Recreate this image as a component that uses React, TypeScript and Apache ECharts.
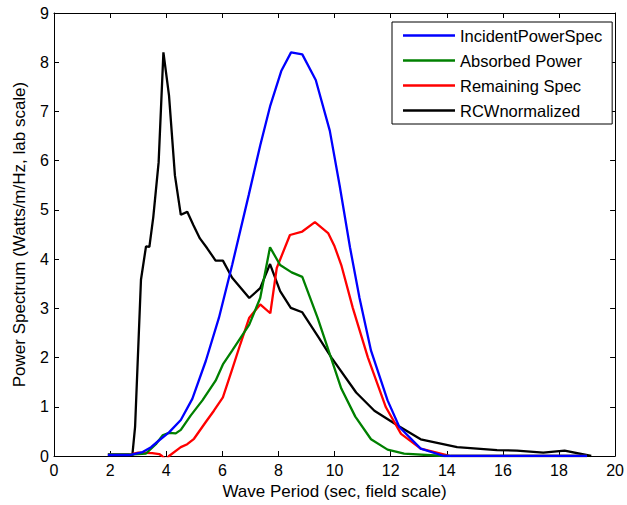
import React, { useEffect, useRef } from "react";
import * as echarts from "echarts";

const xTicks = [0, 2, 4, 6, 8, 10, 12, 14, 16, 18, 20];

const incidentPowerSpec: [number, number][] = [
  [1.92, 0.02], [2.69, 0.02], [3.16, 0.08], [3.46, 0.18], [3.75, 0.32], [4.1, 0.48],
  [4.52, 0.73], [4.93, 1.16], [5.41, 1.93], [5.88, 2.81], [6.35, 3.88], [6.94, 5.3],
  [7.35, 6.31], [7.71, 7.12], [8.1, 7.82], [8.45, 8.2], [8.85, 8.16], [9.33, 7.64],
  [9.83, 6.61], [10.18, 5.5], [10.55, 4.24], [10.89, 3.21], [11.3, 2.14], [11.89, 1.13],
  [12.31, 0.59], [13.07, 0.15], [13.9, 0.0], [16.0, 0.0], [19.0, 0.0],
];

const absorbedPower: [number, number][] = [
  [1.92, 0.03], [2.7, 0.03], [3.28, 0.05], [3.63, 0.24], [3.87, 0.42], [4.1, 0.47],
  [4.34, 0.46], [4.52, 0.53], [4.87, 0.82], [5.29, 1.13], [5.76, 1.53], [6.02, 1.86],
  [6.35, 2.14], [6.96, 2.67], [7.35, 3.21], [7.7, 4.24], [8.06, 3.88], [8.47, 3.73],
  [8.85, 3.64], [9.4, 2.8], [9.83, 2.07], [10.24, 1.37], [10.74, 0.8], [11.3, 0.34],
  [11.89, 0.13], [12.48, 0.05], [13.9, 0.0], [16.0, 0.0], [19.0, 0.0],
];

const remainingSpec: [number, number][] = [
  [1.92, 0.03], [2.7, 0.03], [3.0, 0.07], [3.5, 0.06], [3.75, 0.04], [3.85, 0.0],
  [4.0, -0.08], [4.1, 0.0], [4.52, 0.18], [4.75, 0.24], [4.99, 0.35], [5.41, 0.69],
  [5.7, 0.92], [6.02, 1.19], [6.35, 1.76], [6.64, 2.27], [6.96, 2.81], [7.35, 3.08],
  [7.71, 2.9], [7.94, 3.82], [8.41, 4.49], [8.85, 4.56], [9.3, 4.75], [9.77, 4.53],
  [10.0, 4.26], [10.24, 3.88], [10.65, 3.01], [11.19, 2.0], [11.83, 0.99], [12.37, 0.45],
  [13.07, 0.15], [14.14, 0.0], [16.0, 0.0], [19.0, 0.0],
];

const rcwNormalized: [number, number][] = [
  [2.79, 0.0], [2.89, 0.59], [3.1, 3.58], [3.28, 4.26], [3.4, 4.25], [3.54, 4.86],
  [3.73, 5.97], [3.9, 8.2], [4.1, 7.32], [4.31, 5.7], [4.52, 4.9], [4.75, 4.96],
  [4.97, 4.69], [5.2, 4.42], [5.46, 4.22], [5.76, 3.97], [6.02, 3.97], [6.35, 3.62],
  [6.96, 3.21], [7.35, 3.41], [7.7, 3.9], [8.06, 3.35], [8.44, 3.01], [8.85, 2.92],
  [9.42, 2.42], [9.89, 2.0], [10.77, 1.29], [11.42, 0.92], [12.25, 0.62], [13.07, 0.34],
  [14.37, 0.18], [15.08, 0.15], [15.79, 0.12], [16.5, 0.11], [17.44, 0.07], [18.2, 0.11],
  [19.15, 0.0],
];

const seriesNames = ["IncidentPowerSpec", "Absorbed Power", "Remaining Spec", "RCWnormalized"];
const seriesColors = ["#0000FF", "#008000", "#FF0000", "#000000"];
const seriesData = [incidentPowerSpec, absorbedPower, remainingSpec, rcwNormalized];

const FONT = "'Liberation Sans', Arial, sans-serif";
const LINE_ICON = "path://M0,0 L52,0 L52,2.6 L0,2.6 Z";

export default function App() {
  const ref = useRef<HTMLDivElement>(null);
  useEffect(() => {
    if (!ref.current) return;
    const chart = echarts.init(ref.current, undefined, { renderer: "svg" });
    const axisCommon = {
      type: "value" as const,
      axisLine: { show: true, onZero: false, lineStyle: { color: "#000", width: 1 } },
      axisTick: { show: true, inside: true, length: 5, lineStyle: { color: "#000" } },
      splitLine: { show: false },
    };
    chart.setOption({
      animation: false,
      backgroundColor: "#fff",
      textStyle: { fontFamily: FONT },
      grid: { left: 54, top: 13, right: 8, bottom: 46, containLabel: false },
      xAxis: [
        {
          ...axisCommon,
          position: "bottom",
          min: xTicks[0],
          max: xTicks[xTicks.length - 1],
          interval: 2,
          axisLabel: { color: "#000", fontSize: 16, fontFamily: FONT, margin: 6 },
          name: "Wave Period (sec, field scale)",
          nameLocation: "middle",
          nameGap: 27,
          nameTextStyle: { color: "#000", fontSize: 17, fontFamily: FONT },
        },
        {
          ...axisCommon,
          position: "top",
          min: xTicks[0],
          max: xTicks[xTicks.length - 1],
          interval: 2,
          axisLabel: { show: false },
        },
      ],
      yAxis: [
        {
          ...axisCommon,
          position: "left",
          min: 0,
          max: 9,
          interval: 1,
          axisLabel: { color: "#000", fontSize: 16, fontFamily: FONT, margin: 5 },
          name: "Power Spectrum (Watts/m/Hz, lab scale)",
          nameLocation: "middle",
          nameGap: 26,
          nameTextStyle: { color: "#000", fontSize: 17, fontFamily: FONT },
        },
        {
          ...axisCommon,
          position: "right",
          min: 0,
          max: 9,
          interval: 1,
          axisLabel: { show: false },
        },
      ],
      legend: {
        orient: "vertical",
        left: 392,
        top: 22,
        padding: [5, 10, 5, 11],
        itemWidth: 52,
        itemHeight: 14,
        itemGap: 8,
        symbolKeepAspect: true,
        backgroundColor: "#fff",
        borderColor: "#000",
        borderWidth: 1,
        borderRadius: 0,
        textStyle: { color: "#000", fontSize: 16.5, fontFamily: FONT },
        data: seriesNames.map((n) => ({ name: n, icon: LINE_ICON })),
      },
      series: seriesNames.map((name, i) => ({
        name,
        type: "line",
        data: seriesData[i],
        xAxisIndex: 0,
        yAxisIndex: 0,
        symbol: "none",
        clip: true,
        color: seriesColors[i],
        lineStyle: { color: seriesColors[i], width: 2.3 },
        z: 10 - i,
      })),
    });
    return () => chart.dispose();
  }, []);
  return (
    <div
      ref={ref}
      style={{ position: "absolute", left: 0, top: 0, width: 627, height: 505 }}
    />
  );
}
